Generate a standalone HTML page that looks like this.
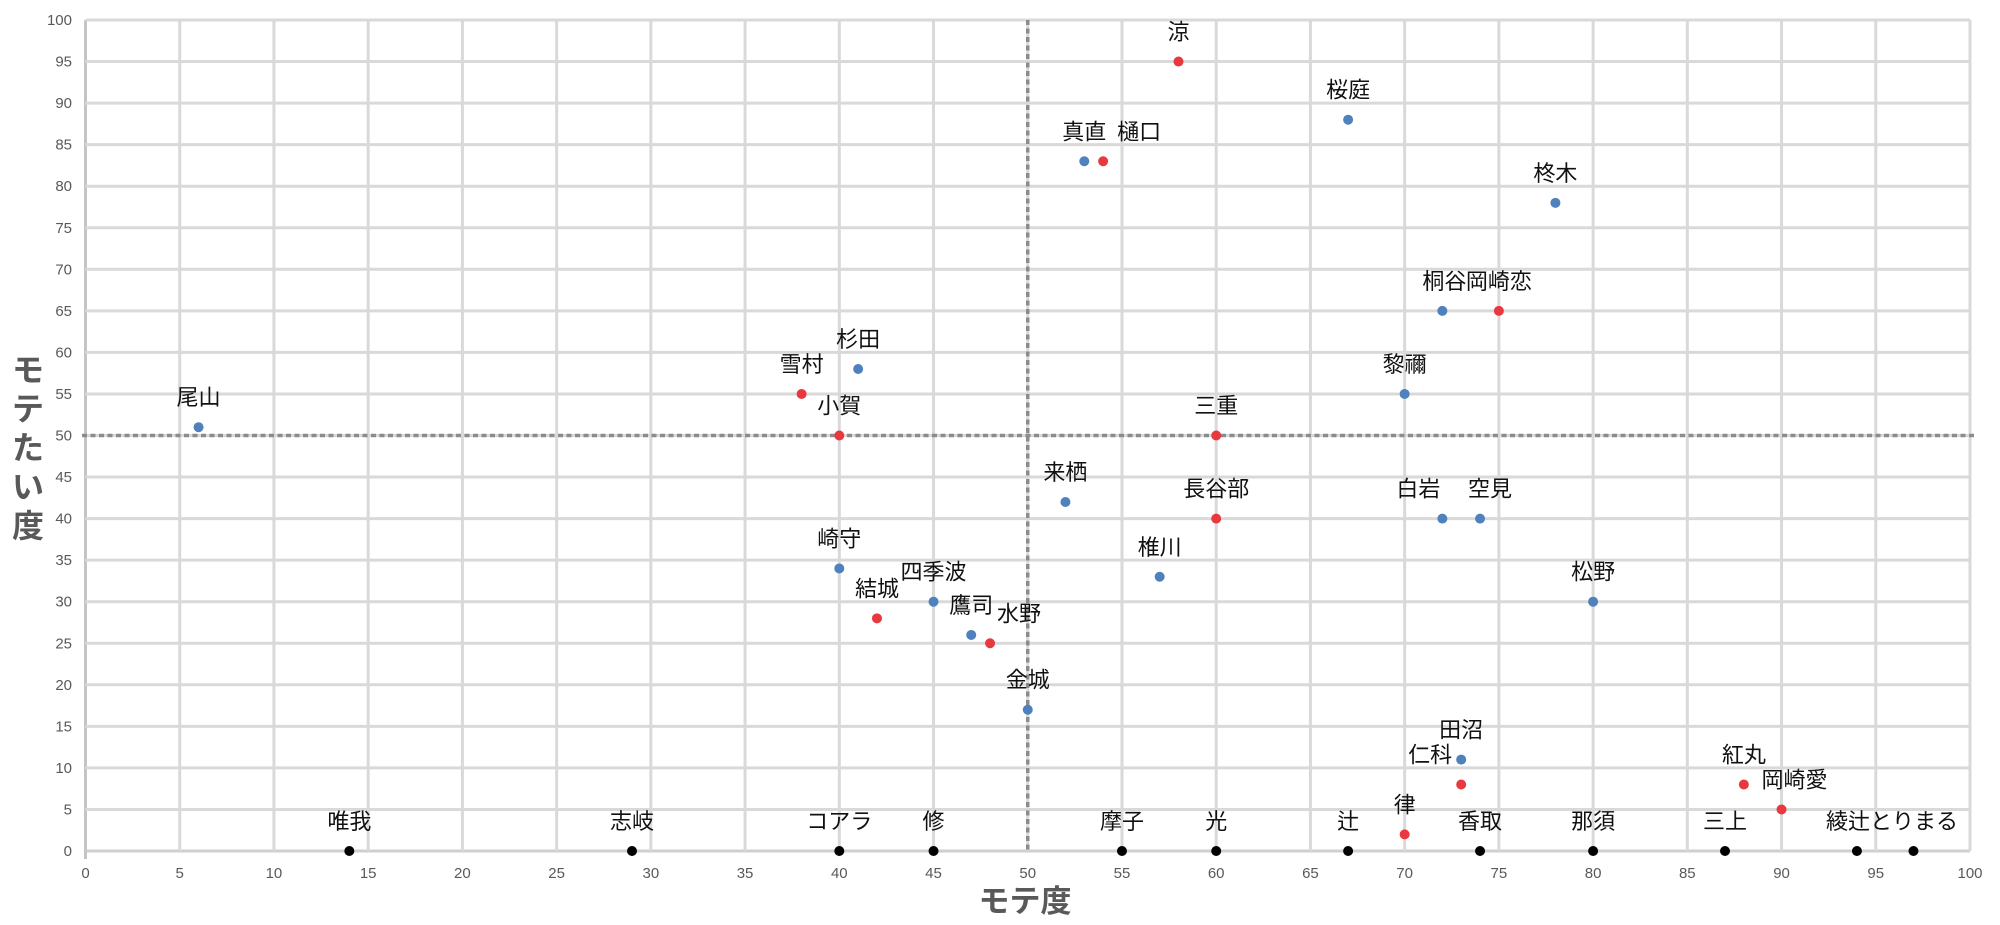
<!DOCTYPE html>
<html><head><meta charset="utf-8"><style>
html,body{margin:0;padding:0;background:#fff;}
svg{display:block;font-family:"Liberation Sans","Noto Sans CJK JP",sans-serif;}
</style></head><body>
<svg id="c" width="2000" height="925" xmlns="http://www.w3.org/2000/svg"></svg>
<script>
const s=document.getElementById('c');const NS='http://www.w3.org/2000/svg';
const X=v=>85.5+v*18.845, Y=v=>851-v*8.31;
function el(t,a,txt){const e=document.createElementNS(NS,t);for(const k in a)e.setAttribute(k,a[k]);if(txt!==undefined)e.textContent=txt;s.appendChild(e);return e;}
for(let i=0;i<=100;i+=5){
  el('line',{x1:X(i),y1:Y(0),x2:X(i),y2:Y(100),stroke:i==0?'#c4c4c4':'#d9d9d9','stroke-width':3});
  el('line',{x1:X(0),y1:Y(i),x2:X(100),y2:Y(i),stroke:i==0?'#cfcfcf':'#d9d9d9','stroke-width':3});
  el('text',{x:72,y:Y(i)+5,'text-anchor':'end','font-size':15,fill:'#595959'},String(i));
  el('text',{x:X(i),y:878,'text-anchor':'middle','font-size':15,fill:'#595959'},String(i));
}
el('line',{x1:X(0),y1:Y(0),x2:X(0),y2:Y(0)+8,stroke:'#c4c4c4','stroke-width':3});
el('line',{x1:X(50),y1:Y(100),x2:X(50),y2:Y(0),stroke:'#8c8c8c','stroke-width':3.5,'stroke-dasharray':'5 3.5'});
el('line',{x1:82,y1:Y(50),x2:1975,y2:Y(50),stroke:'#8c8c8c','stroke-width':3.5,'stroke-dasharray':'5 3.5'});
const B='#4f81bd',R='#e8393f',K='#000';
const d=[
['尾山',6,51,B],['雪村',38,55,R],['杉田',41,58,B],['小賀',40,50,R],['崎守',40,34,B],['結城',42,28,R],
['四季波',45,30,B],['鷹司',47,26,B],['水野',48,25,R,29],['金城',50,17,B],['来栖',52,42,B],
['真直',53,83,B],['樋口',54,83,R,36],['涼',58,95,R],['椎川',57,33,B],['長谷部',60,40,R],['三重',60,50,R],
['桜庭',67,88,B],['黎禰',70,55,B],['桐谷',72,65,B,2],['岡崎恋',75,65,R,0],['柊木',78,78,B],
['白岩',72,40,B,-24],['空見',74,40,B,10],['松野',80,30,B],['田沼',73,11,B],['仁科',73,8,R,-31],
['律',70,2,R],['紅丸',88,8,R],['岡崎愛',90,5,R,13],
['唯我',14,0,K],['志岐',29,0,K],['コアラ',40,0,K],['修',45,0,K],['摩子',55,0,K],['光',60,0,K],
['辻',67,0,K],['香取',74,0,K],['那須',80,0,K],['三上',87,0,K],['',94,0,K],['',97,0,K]];
d.forEach(p=>{
  el('circle',{cx:X(p[1]),cy:Y(p[2]),r:5,fill:p[3]});
  if(p[0])el('text',{x:X(p[1])+(p[4]||0),y:Y(p[2])-22,'text-anchor':'middle','font-size':22,fill:'#111'},p[0]);
});
el('text',{x:1892,y:Y(0)-22,'text-anchor':'middle','font-size':22,fill:'#111'},'綾辻とりまる');
el('text',{x:1025,y:912,'text-anchor':'middle','font-size':31,'font-weight':'bold',fill:'#595959'},'モテ度');
['モ','テ','た','い','度'].forEach((c,i)=>el('text',{x:28,y:381+i*39,'text-anchor':'middle','font-size':32,'font-weight':'bold',fill:'#595959'},c));
</script>
</body></html>
